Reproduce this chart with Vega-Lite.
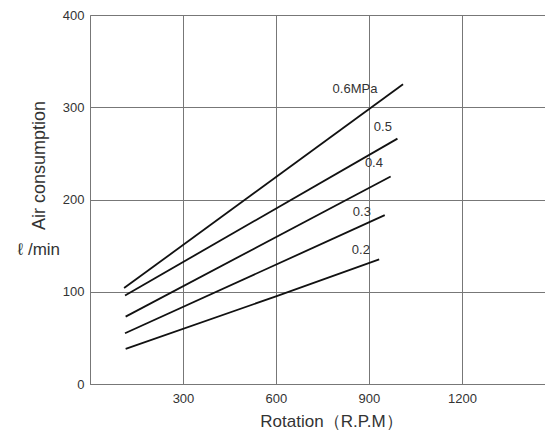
{
  "$schema": "https://vega.github.io/schema/vega-lite/v6.json",
  "autosize": {"type": "none"},
  "width": 455,
  "height": 369,
  "padding": {"left": 90, "top": 15, "right": 0, "bottom": 50},
  "background": "white",
  "config": {
    "view": {"stroke": null},
    "font": "Liberation Sans",
    "axis": {
      "labelFont": "Liberation Sans",
      "titleFont": "Liberation Sans",
      "labelColor": "#333",
      "titleColor": "#333",
      "labelFontSize": 13,
      "titleFontSize": 17,
      "titleFontWeight": "normal",
      "gridColor": "#777",
      "gridOpacity": 1,
      "gridWidth": 1,
      "domainColor": "#777",
      "domainWidth": 1,
      "ticks": false
    }
  },
  "datasets": {
    "curves": [
      {"pressure": "0.6", "rpm": 110, "air": 104},
      {"pressure": "0.6", "rpm": 1010, "air": 325},
      {"pressure": "0.5", "rpm": 113, "air": 96},
      {"pressure": "0.5", "rpm": 992, "air": 266},
      {"pressure": "0.4", "rpm": 115, "air": 73},
      {"pressure": "0.4", "rpm": 970, "air": 225},
      {"pressure": "0.3", "rpm": 113, "air": 55},
      {"pressure": "0.3", "rpm": 951, "air": 183},
      {"pressure": "0.2", "rpm": 115, "air": 38},
      {"pressure": "0.2", "rpm": 600, "air": 95},
      {"pressure": "0.2", "rpm": 933, "air": 135}
    ],
    "labels": [
      {"text": "0.6MPa", "rpm": 855, "air": 320},
      {"text": "0.5", "rpm": 945, "air": 279},
      {"text": "0.4", "rpm": 916, "air": 240},
      {"text": "0.3", "rpm": 877, "air": 186},
      {"text": "0.2", "rpm": 874, "air": 145}
    ],
    "unit": [
      {"text": "ℓ /min", "rpm": -165, "air": 145}
    ]
  },
  "layer": [
    {
      "data": {"name": "curves"},
      "mark": {"type": "line", "color": "#111", "strokeWidth": 1.8},
      "encoding": {
        "x": {
          "field": "rpm", "type": "quantitative",
          "scale": {"domain": [0, 1468], "nice": false, "zero": false},
          "axis": {
            "values": [0, 300, 600, 900, 1200],
            "format": "d",
            "labelExpr": "datum.value == 0 ? '' : datum.label",
            "labelPadding": 8,
            "title": "Rotation（R.P.M）",
            "titleX": 241,
            "titleY": 37,
            "titleBaseline": "middle",
            "titleAlign": "center"
          }
        },
        "y": {
          "field": "air", "type": "quantitative",
          "scale": {"domain": [0, 400], "nice": false},
          "axis": {
            "values": [0, 100, 200, 300, 400],
            "labelPadding": 6,
            "title": "Air consumption",
            "titleFontSize": 18,
            "titleX": -51,
            "titleY": 150,
            "titleAngle": -90,
            "titleAlign": "center",
            "titleBaseline": "middle"
          }
        },
        "detail": {"field": "pressure"}
      }
    },
    {
      "data": {"name": "labels"},
      "mark": {"type": "text", "font": "Liberation Sans", "fontSize": 13, "color": "#333", "align": "center", "baseline": "middle"},
      "encoding": {
        "x": {"field": "rpm", "type": "quantitative"},
        "y": {"field": "air", "type": "quantitative"},
        "text": {"field": "text"}
      }
    },
    {
      "data": {"name": "unit"},
      "mark": {"type": "text", "font": "Liberation Sans", "fontSize": 17, "color": "#333", "align": "center", "baseline": "middle"},
      "encoding": {
        "x": {"field": "rpm", "type": "quantitative"},
        "y": {"field": "air", "type": "quantitative"},
        "text": {"field": "text"}
      }
    }
  ]
}
